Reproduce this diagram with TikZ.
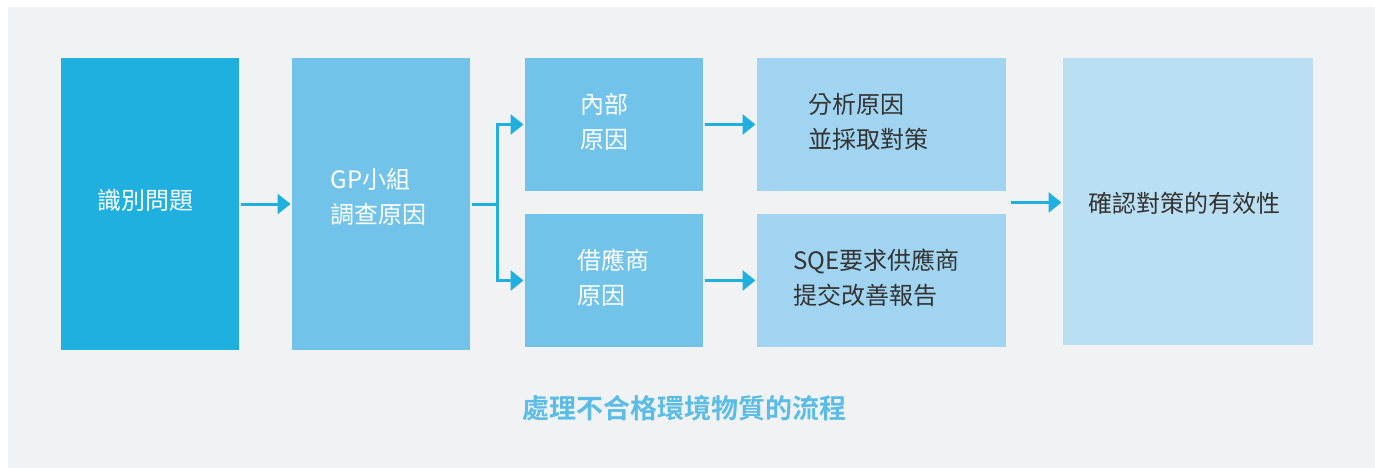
\documentclass[tikz,border=0pt]{standalone}
\usepackage{fontspec}
\setmainfont{Noto Sans CJK TC}[BoldFont={Noto Sans CJK TC Bold}]
\usetikzlibrary{arrows.meta, calc}

\definecolor{panelgray}{HTML}{F1F2F4}
\definecolor{deepblue}{HTML}{20B0E0}
\definecolor{midblue}{HTML}{72C3E9}
\definecolor{paleblue}{HTML}{A0D4F0}
\definecolor{lightblue}{HTML}{BBDFF2}
\definecolor{titleblue}{HTML}{5BBDE5}
\definecolor{darktext}{HTML}{333333}

\begin{document}
\begin{tikzpicture}[
            x = 1pt, y = -1pt, % pixel grid of the reference
            > = {Triangle[length=13pt, width=20pt]}, % arrow head style
            line width = 3pt
        ]

        \tikzstyle{box}=[
            rectangle,
            inner sep = 0pt,
            minimum width = 178pt
        ]
        \tikzstyle{tall}=[box, minimum height = 292pt]
        \tikzstyle{half}=[box, minimum height = 133pt]
        \tikzstyle{flow}=[->, deepblue]
        \tikzstyle{txt}=[
            anchor = west,
            align = left,
            inner sep = 0pt,
            font = \fontsize{24}{35}\selectfont
        ]

        \useasboundingbox (0,0) rectangle (1375,468);
        \fill[panelgray] (8,7) rectangle (1375,468);

        % boxes
        \node[tall, fill=deepblue] (ident) at (150,204) {};
        \node[tall, fill=midblue] (gp) at (381,204) {};
        \node[half, fill=midblue] (inner) at (614,124.5) {};
        \node[half, fill=midblue] (supplier) at (614,280.5) {};
        \node[half, fill=paleblue, minimum width=249pt] (analyse) at (881.5,124.5) {};
        \node[half, fill=paleblue, minimum width=249pt] (sqe) at (881.5,280.5) {};
        \node[box, fill=lightblue, minimum width=250pt, minimum height=287pt] (verify) at (1188,201.5) {};

        % texts
        \node[txt, white] (identtxt) at (96,200) {識別問題};
        \node[txt, white] (gptxt) at (329,197) {GP小組\\調查原因};
        \node[txt, white] (innertxt) at (579,122) {內部\\原因};
        \node[txt, white] (suppliertxt) at (576,278) {借應商\\原因};
        \node[txt, darktext] (analysetxt) at (807,122) {分析原因\\並採取對策};
        \node[txt, darktext] (sqetxt) at (792,278) {SQE要求供應商\\提交改善報告};
        \node[txt, darktext] (verifytxt) at (1087,203) {確認對策的有效性};

        \node[titleblue, font=\fontsize{27}{30}\selectfont\bfseries] (title) at (684,408) {處理不合格環境物質的流程};

        % connectors
        \draw[flow] (ident) -- (gp);
        \coordinate (split) at ($(gp.east) + (26,0)$);
        \draw[deepblue] (gp.east) -- (split);
        \draw[flow] (split) |- (inner.west);
        \draw[flow] (split) |- (supplier.west);
        \draw[flow] (inner) -- (analyse);
        \draw[flow] (supplier) -- (sqe);
        \coordinate (join) at ($(analyse.south east)!0.5!(sqe.north east)$);
        \draw[flow, shorten <= 3pt] (join) -- (join -| verify.west);

    \end{tikzpicture}
\end{document}
